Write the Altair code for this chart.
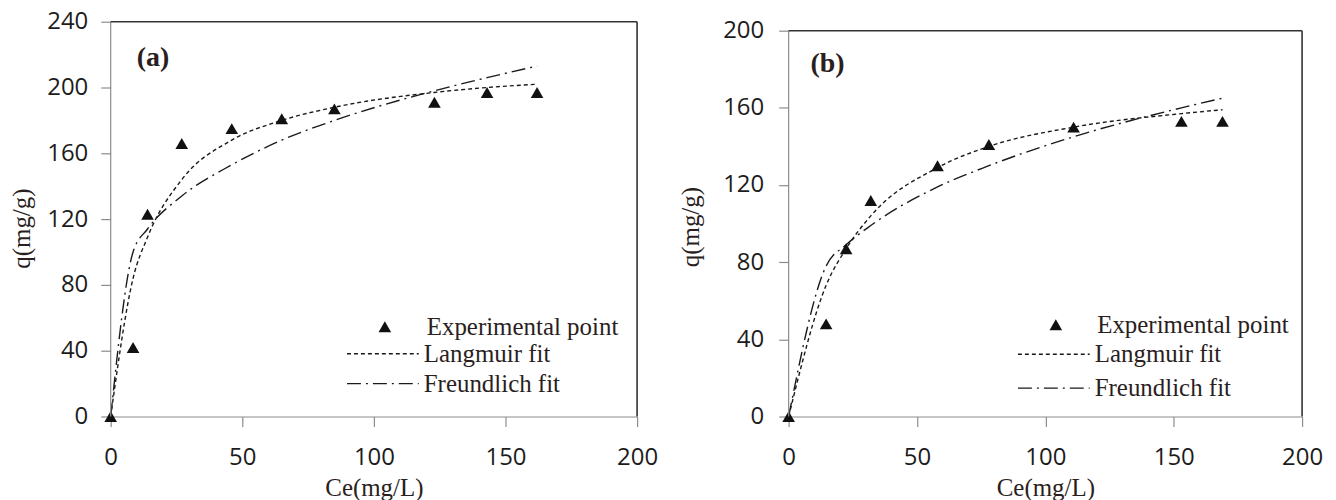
import altair as alt
import pandas as pd

# ---------------- data ----------------
# Panel (a)
a_ce = [0, 8.5, 14, 27, 46, 65, 85, 123, 143, 162]
a_exp = [0, 42, 123, 166, 175, 181, 187, 191, 197, 197]
a_lang = [0, 84, 109, 144, 168, 180, 188, 197, 200, 202]
a_freu = [0, 100, 114, 134, 153, 168, 180, 198, 206, 213]

# Panel (b)
b_ce = [0, 14.6, 22.4, 32, 58, 78, 111, 153, 169]
b_exp = [0, 48, 87, 112, 130, 141, 150, 153, 153]
b_lang = [0, 68, 87, 104, 129, 140, 150, 157, 159]
b_freu = [0, 78, 89, 99, 119, 130, 145, 160, 165]

x_ticks = [0, 50, 100, 150, 200]
a_y_ticks = [0, 40, 80, 120, 160, 200, 240]
b_y_ticks = [0, 40, 80, 120, 160, 200]

series_names = ["Experimental point", "Langmuir fit", "Freundlich fit"]
x_title = "Ce(mg/L)"
y_title = "q(mg/g)"

TICK_FONT = "Open Sans"
SERIF = "Liberation Serif"
TXT = "#2a1e1e"
AX = "#8c8c8c"
INK = "#1a1a1a"


def panel(ce, exp, lang, freu, ytop, ymax, yticks, tag, W, H, cfg):
    pts = pd.DataFrame({"Ce": ce, "q": exp, "series": series_names[0]})
    lines = pd.DataFrame({
        "Ce": list(ce) + list(ce),
        "q": list(lang) + list(freu),
        "series": [series_names[1]] * len(ce) + [series_names[2]] * len(ce),
    })
    xs = alt.Scale(domain=[0, 200], nice=False, zero=True)
    ys = alt.Scale(domain=[0, ytop], nice=False, zero=True)
    xaxis = alt.Axis(values=x_ticks, title=x_title, grid=False, tickSize=10,
                     labelPadding=19, domainColor=AX, tickColor=AX, domainWidth=1.2,
                     tickWidth=1.2, labelFont=TICK_FONT, labelFontSize=24,
                     labelColor="#1c1c1c", titleFont=SERIF, titleFontSize=25,
                     titleFontWeight="normal", titleColor=TXT, titleBaseline="middle",
                     titleY=71, labelFlush=False, labelOverlap=False)
    yaxis = alt.Axis(values=yticks, title=y_title, grid=False, tickSize=10,
                     labelPadding=cfg["ylp"], domain=False, tickColor=AX,
                     tickWidth=1.2, labelFont=TICK_FONT,
                     labelFontSize=24, labelColor="#1c1c1c", titleFont=SERIF,
                     titleFontSize=25, titleFontWeight="normal", titleColor=TXT,
                     titleBaseline="middle", titleAngle=270, titleX=cfg["tx"],
                     titleY=cfg["ty"], labelFlush=False, labelOverlap=False)

    line_layer = alt.Chart(lines).mark_line(
        color=INK, strokeWidth=1.4, interpolate="monotone"
    ).encode(
        x=alt.X("Ce:Q", scale=xs, axis=xaxis),
        y=alt.Y("q:Q", scale=ys, axis=yaxis),
        strokeDash=alt.StrokeDash(
            "series:N",
            scale=alt.Scale(domain=series_names[1:], range=[[4, 3], [14, 5, 2, 5]]),
            legend=alt.Legend(orient="none", legendX=cfg["dlx"], legendY=cfg["dly"],
                              title=None, symbolType="stroke", symbolSize=5184,
                              symbolStrokeWidth=1.4, symbolStrokeColor=INK,
                              labelFont=SERIF, labelFontSize=25, labelColor=TXT,
                              labelOffset=4, clipHeight=cfg["clip"], rowPadding=0,
                              padding=0, labelBaseline="middle", labelLimit=400),
        ),
    )
    point_layer = alt.Chart(pts).mark_point(
        filled=True, color="#111111", size=160, opacity=1
    ).encode(
        x=alt.X("Ce:Q", scale=xs, axis=xaxis),
        y=alt.Y("q:Q", scale=ys, axis=yaxis),
        shape=alt.Shape(
            "series:N",
            scale=alt.Scale(domain=series_names[:1], range=["triangle-up"]),
            legend=alt.Legend(orient="none", legendX=cfg["slx"], legendY=cfg["sly"],
                              title=None, symbolSize=160, symbolFillColor="#111111",
                              symbolStrokeWidth=0, labelFont=SERIF, labelFontSize=25,
                              labelColor=TXT, labelOffset=cfg["slo"], padding=0,
                              labelBaseline="middle", labelLimit=400),
        ),
    )
    dummy = pd.DataFrame({"d": [0]})
    # frame: gray left axis line, dark top and right borders (at the axis maximum)
    left_rule = alt.Chart(dummy).mark_rule(color=AX, strokeWidth=1.2).encode(
        x=alt.value(0), y=alt.Y(datum=0, scale=ys, type="quantitative"),
        y2=alt.Y2(datum=ymax))
    top_rule = alt.Chart(dummy).mark_rule(color="#333333", strokeWidth=1.6).encode(
        x=alt.value(0), x2=alt.value(W),
        y=alt.Y(datum=ymax, scale=ys, type="quantitative"))
    right_rule = alt.Chart(dummy).mark_rule(color="#333333", strokeWidth=1.6).encode(
        x=alt.value(W), y=alt.Y(datum=0, scale=ys, type="quantitative"),
        y2=alt.Y2(datum=ymax))
    tag_text = alt.Chart(pd.DataFrame({"t": [tag]})).mark_text(
        font=SERIF, fontSize=28, fontWeight="bold", color=TXT, align="center",
        baseline="middle").encode(text="t:N", x=alt.value(cfg["tagx"]),
                                  y=alt.value(cfg["tagy"]))
    ch = alt.layer(line_layer, point_layer, left_rule, top_rule, right_rule,
                   tag_text).properties(width=W, height=H)
    return ch


cfg_a = dict(ylp=13, tx=-89, ty=207, dlx=236, dly=318, clip=30, slx=262.5, sly=293.5,
             slo=29.5, tagx=42.5, tagy=36.5)
cfg_b = dict(ylp=15, tx=-98, ty=205.5, dlx=229, dly=316.5, clip=34, slx=255.5, sly=291.5,
             slo=29, tagx=39, tagy=42.5)

pa = panel(a_ce, a_exp, a_lang, a_freu, 240, 240, a_y_ticks, "(a)", 528, 396, cfg_a)
# panel (b): its axis frame starts 9px lower than panel (a)'s, so its scale
# extends slightly above the last tick (200) and the frame is drawn at 200
pb = panel(b_ce, b_exp, b_lang, b_freu, 200 * 396 / 387, 200, b_y_ticks, "(b)",
           515, 396, cfg_b)

chart = alt.hconcat(pa, pb, spacing=21).resolve_scale(
    x="independent", y="independent", shape="independent", strokeDash="independent"
).properties(
    padding={"left": 2, "top": 1, "right": 5, "bottom": 0}
).configure(background="white").configure_view(stroke=None)

chart.save("out.html", embed_options={"renderer": "svg", "actions": False})
